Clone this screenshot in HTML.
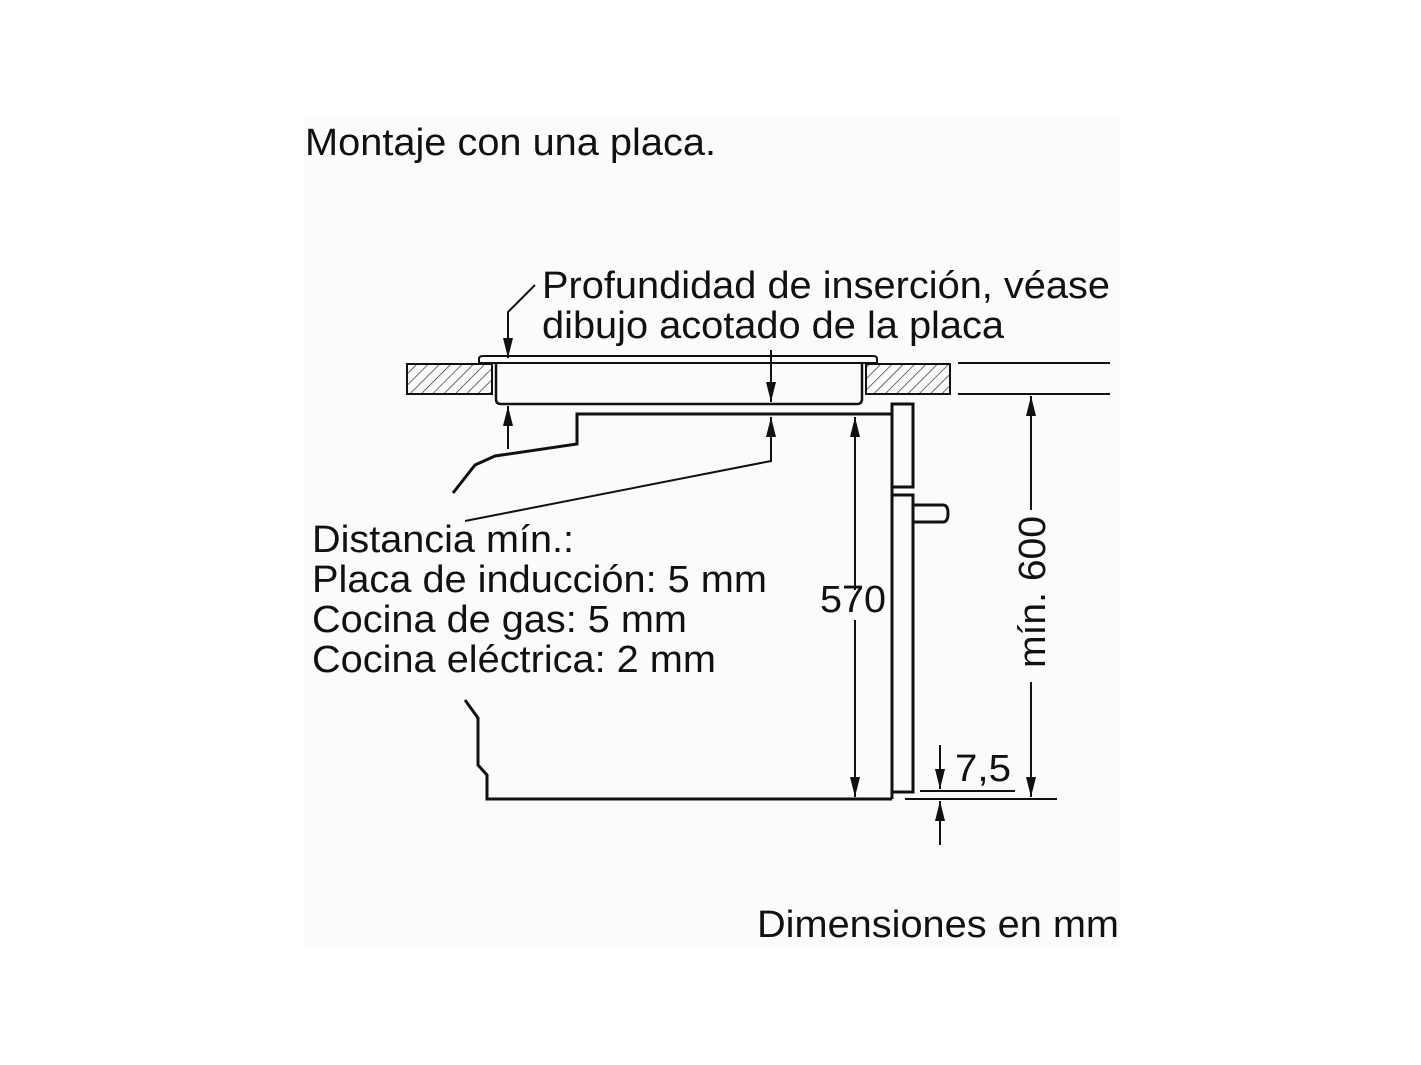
<!DOCTYPE html>
<html><head><meta charset="utf-8"><style>
html,body{margin:0;padding:0;background:#fff;}
svg{display:block}
text{font-family:"Liberation Sans",Arial,sans-serif;fill:#111;}
</style></head><body>
<svg width="1421" height="1065" viewBox="0 0 1421 1065" xmlns="http://www.w3.org/2000/svg">
<defs>
<pattern id="h" patternUnits="userSpaceOnUse" width="8" height="8" patternTransform="rotate(45)">
<line x1="0" y1="0" x2="0" y2="8" stroke="#222" stroke-width="1.3"/>
</pattern>
<marker id="b" viewBox="0 0 20 10" refX="20" refY="5" markerWidth="20" markerHeight="12" markerUnits="userSpaceOnUse" orient="auto">
<path d="M0,0 L20,5 L0,10 z" fill="#111"/>
</marker>
</defs>
<rect x="303" y="118" width="818" height="828" fill="#fbfbfb"/>
<g font-size="38" lengthAdjust="spacingAndGlyphs">
<text x="305" y="155" textLength="411" lengthAdjust="spacingAndGlyphs">Montaje con una placa.</text>
<text x="542" y="298" textLength="568" lengthAdjust="spacingAndGlyphs">Profundidad de inserción, véase</text>
<text x="542" y="338" textLength="462" lengthAdjust="spacingAndGlyphs">dibujo acotado de la placa</text>
<text x="312" y="552" textLength="262" lengthAdjust="spacingAndGlyphs">Distancia mín.:</text>
<text x="312" y="592" textLength="455" lengthAdjust="spacingAndGlyphs">Placa de inducción: 5 mm</text>
<text x="312" y="632" textLength="375" lengthAdjust="spacingAndGlyphs">Cocina de gas: 5 mm</text>
<text x="312" y="672" textLength="404" lengthAdjust="spacingAndGlyphs">Cocina eléctrica: 2 mm</text>
<text x="820" y="612" textLength="66" lengthAdjust="spacingAndGlyphs">570</text>
<text x="955" y="781" textLength="56" lengthAdjust="spacingAndGlyphs">7,5</text>
<text x="757" y="937" textLength="362" lengthAdjust="spacingAndGlyphs">Dimensiones en mm</text>
<text transform="translate(1045,668) rotate(-90)" textLength="152" lengthAdjust="spacingAndGlyphs">mín. 600</text>
</g>

<g fill="none" stroke="#111" stroke-width="3">
<rect x="407" y="364" width="85" height="30" fill="url(#h)" stroke-width="2"/>
<rect x="866" y="364" width="84" height="30" fill="url(#h)" stroke-width="2"/>
<path d="M479,363 L479,359 Q479,356 483,356 L873,356 Q877,356 877,359 L877,363 Z" stroke-width="2"/>
<path d="M496,364 L496,399 Q496,404 501,404 L857,404 Q862,404 862,399 L862,364" stroke-width="2.5"/>
<path d="M892,414 L577,414 L577,444 L495,456 L475,465 L453,493"/>
<path d="M465,700 L478,718 L478,765 L487,775 L487,799 L892,799"/>
<rect x="892" y="404" width="21" height="83"/>
<path d="M892,487 L892,495 L913,495 L913,792 L892,792 L892,799 M892,495 L892,792"/>
<path d="M913,505 L943,505 Q948,505 948,513 Q948,522 943,522 L913,522"/>
</g>
<g stroke="#111" stroke-width="2" fill="none">
<path d="M535,285 L508,312 L508,358" marker-end="url(#b)"/>
<line x1="508" y1="449" x2="508" y2="406" marker-end="url(#b)"/>
<line x1="771" y1="350" x2="771" y2="402" marker-end="url(#b)"/>
<path d="M465,521 L771,461 L771,417" marker-end="url(#b)"/>
<line x1="855" y1="590" x2="855" y2="417" marker-end="url(#b)"/>
<line x1="855" y1="620" x2="855" y2="797" marker-end="url(#b)"/>
<line x1="958" y1="363" x2="1110" y2="363"/>
<line x1="958" y1="394" x2="1110" y2="394"/>
<line x1="1031" y1="510" x2="1031" y2="396" marker-end="url(#b)"/>
<line x1="1031" y1="682" x2="1031" y2="797" marker-end="url(#b)"/>
<line x1="905" y1="799" x2="1057" y2="799"/>
<line x1="920" y1="791" x2="1015" y2="791"/>
<line x1="940" y1="745" x2="940" y2="789" marker-end="url(#b)"/>
<line x1="940" y1="845" x2="940" y2="801" marker-end="url(#b)"/>
</g>
</svg>
</body></html>
